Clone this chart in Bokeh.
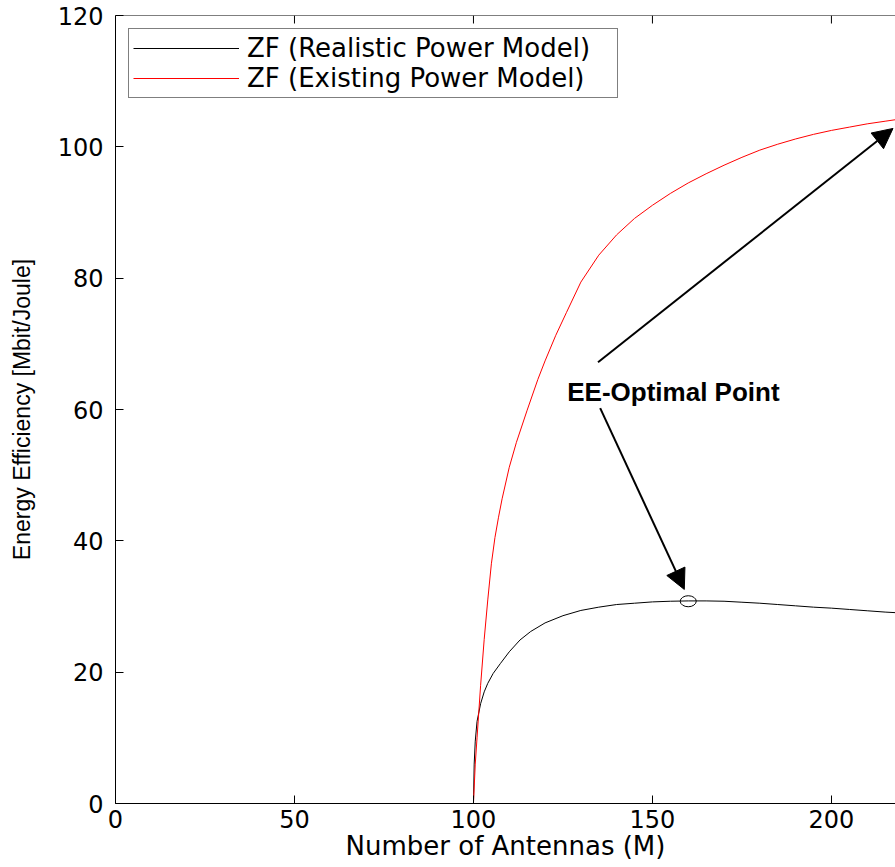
from bokeh.plotting import figure
from bokeh.models import (Range1d, FixedTicker, Legend, LegendItem, Arrow, NormalHead, Span)
from bokeh.core.properties import value
from bokeh.embed import file_html
from bokeh.resources import INLINE

# Energy efficiency vs. number of BS antennas, ZF precoding
m_realistic = [0, 100, 100.2, 100.5, 101, 102, 103, 104, 105.5, 107.5, 110, 113, 116,
               120, 125, 130, 135, 140, 145, 150, 155, 160, 165, 170, 175, 180, 185,
               190, 195, 200, 205, 210, 215, 220]
ee_realistic = [0, 0, 6.0, 9.5, 12.5, 15.2, 17.0, 18.3, 19.8, 21.3, 23.1, 24.9, 26.2,
                27.5, 28.6, 29.4, 29.9, 30.3, 30.5, 30.7, 30.8, 30.85, 30.85, 30.8, 30.65,
                30.5, 30.3, 30.1, 29.9, 29.75, 29.55, 29.35, 29.15, 29.0]

m_existing = [0, 100, 100.5, 101, 102, 103, 104, 105, 106, 107, 108, 110, 112, 115, 118,
              120, 123, 126, 130, 135, 140, 145, 150, 155, 160, 165, 170, 175, 180, 185,
              190, 195, 200, 205, 210, 215, 220]
ee_existing = [0, 0, 6.0, 10.0, 18.0, 25.0, 31.0, 36.5, 40.5, 43.6, 46.4, 51.2, 55.0, 59.9,
               64.6, 67.4, 71.3, 74.8, 79.4, 83.5, 86.6, 89.1, 91.1, 92.9, 94.5, 95.9, 97.2,
               98.4, 99.5, 100.4, 101.2, 101.9, 102.5, 103.0, 103.5, 103.9, 104.3]

optimal_m = [160]
optimal_ee = [30.8]

x_ticks = [0, 50, 100, 150, 200]
y_ticks = [0, 20, 40, 60, 80, 100, 120]

series_labels = ["ZF (Realistic Power Model)", "ZF (Existing Power Model)"]
annotation_text = "EE-Optimal Point"

X_MAX, Y_MAX = 217.9, 120
BORDER_TOP, BORDER_BOTTOM = 15, 64
HEIGHT = 867
TICK_PX = 8

p = figure(width=895, height=HEIGHT, output_backend="svg", toolbar_location=None,
           x_range=Range1d(0, X_MAX), y_range=Range1d(0, Y_MAX),
           min_border_left=115, min_border_right=0, min_border_top=BORDER_TOP,
           min_border_bottom=BORDER_BOTTOM)
p.grid.visible = False
p.outline_line_color = None
p.background_fill_color = "white"
p.border_fill_color = "white"

xa = p.xaxis[0]
ya = p.yaxis[0]
xa.ticker = FixedTicker(ticks=x_ticks)
ya.ticker = FixedTicker(ticks=y_ticks)
for ax in (xa, ya):
    ax.axis_line_color = "black"
    ax.major_tick_line_color = "black"
    ax.major_tick_in = TICK_PX
    ax.major_tick_out = 0
    ax.minor_tick_line_color = None
    ax.major_label_text_font = "DejaVu Sans"
    ax.major_label_text_font_size = "24px"
    ax.major_label_text_color = "black"
    ax.axis_label_text_font_style = "normal"
    ax.axis_label_text_color = "black"

xa.axis_label = "Number of Antennas (M)"
xa.axis_label_text_font = "DejaVu Sans"
xa.axis_label_text_font_size = "26px"
xa.major_label_standoff = 6
xa.axis_label_standoff = 0

ya.axis_label = "Energy Efficiency [Mbit/Joule]"
ya.axis_label_text_font = "Liberation Sans"
ya.axis_label_text_font_size = "23px"
ya.major_label_standoff = 12
ya.axis_label_standoff = 20

# top edge of the box with inward ticks
p.add_layout(Span(location=Y_MAX, dimension="width", line_color="black", line_width=1))
tick_len = TICK_PX * Y_MAX / (HEIGHT - BORDER_TOP - BORDER_BOTTOM)
p.segment(x0=x_ticks, y0=[Y_MAX] * len(x_ticks), x1=x_ticks,
          y1=[Y_MAX - tick_len] * len(x_ticks), line_color="black", line_width=1)

r_real = p.line(m_realistic, ee_realistic, line_color="black", line_width=1)
r_exist = p.line(m_existing, ee_existing, line_color="#ff0000", line_width=1)

p.ellipse(x=optimal_m, y=optimal_ee, width=16, height=11, width_units="screen",
          height_units="screen", fill_color=None, line_color="black", line_width=1)

head_style = dict(size=20, fill_color="black", line_color="black")
p.add_layout(Arrow(end=NormalHead(**head_style), x_start=134.8, y_start=67.2,
                   x_end=217.2, y_end=102.8, line_width=2, line_color="black"))
p.add_layout(Arrow(end=NormalHead(**head_style), x_start=135.4, y_start=60.2,
                   x_end=158.9, y_end=32.6, line_width=2, line_color="black"))

p.text(x=[126.2], y=[62.6], text=[annotation_text], text_font=value("Liberation Sans"),
       text_font_style="bold", text_font_size="26px", text_color="black",
       text_align="left", text_baseline="alphabetic")

legend = Legend(items=[LegendItem(label=series_labels[0], renderers=[r_real]),
                       LegendItem(label=series_labels[1], renderers=[r_exist])],
                location="top_left", margin=13, padding=4, spacing=0,
                glyph_width=106, glyph_height=28, label_standoff=8, label_width=366,
                label_text_font="DejaVu Sans", label_text_font_size="26px",
                label_text_color="black", border_line_color="black",
                border_line_width=1, background_fill_alpha=1.0)
p.add_layout(legend)

open("out.html", "w").write(file_html(p, INLINE))
